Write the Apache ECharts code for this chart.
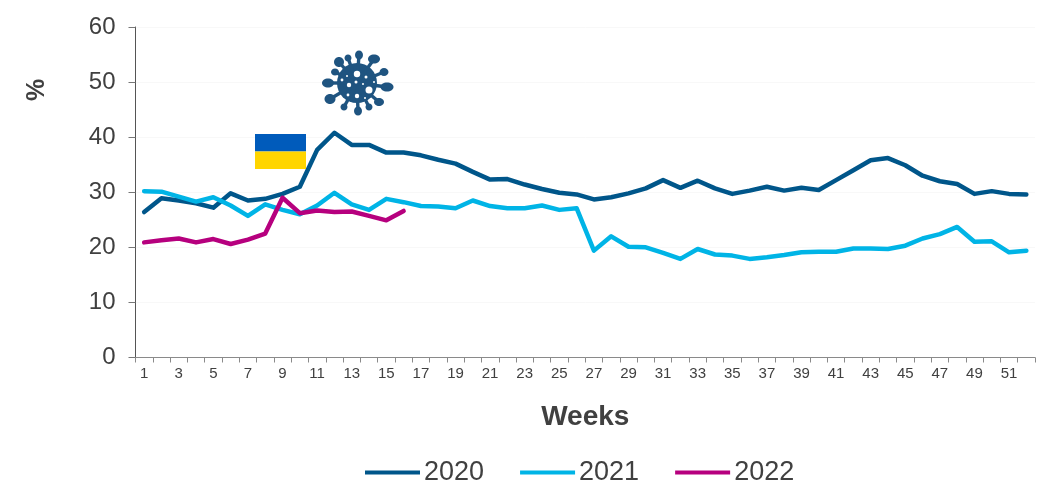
<!DOCTYPE html>
<html><head><meta charset="utf-8">
<style>html,body{margin:0;padding:0;background:#fff}#c{width:1051px;height:486px}</style>
<script src="https://cdn.jsdelivr.net/npm/echarts@6/dist/echarts.min.js"></script>
</head><body><div id="c"></div>
<script>
const weeks = Array.from({length:52},(_, i)=>String(i+1));
const s2020 = [26.4,28.9,28.5,28,27.2,29.8,28.5,28.8,29.7,31,37.7,40.8,38.6,38.6,37.2,37.2,36.7,35.9,35.2,33.7,32.3,32.4,31.4,30.6,29.9,29.6,28.7,29.1,29.8,30.7,32.2,30.8,32.1,30.7,29.7,30.3,31,30.3,30.8,30.4,32.2,34,35.8,36.2,34.9,33,32,31.5,29.7,30.2,29.7,29.6];
const s2021 = [30.2,30.1,29.2,28.3,29.1,27.6,25.7,27.8,26.8,26,27.6,29.9,27.8,26.8,28.8,28.2,27.5,27.4,27.1,28.5,27.5,27.1,27.1,27.6,26.8,27.1,19.4,22,20.1,20,19,17.9,19.7,18.7,18.5,17.9,18.2,18.6,19.1,19.2,19.2,19.8,19.8,19.7,20.3,21.6,22.4,23.7,21,21.1,19.1,19.4];
const s2022 = [20.9,21.3,21.6,20.9,21.5,20.6,21.4,22.5,29,26.2,26.7,26.4,26.5,25.7,24.9,26.6];
const C20='#00568A', C21='#00B4E6', C22='#B6007E', VIR='#1F5480', TXT='#404040';
// virus icon: spike tips [dx,dy,rx,ry] and holes [dx,dy,r], relative to icon centre
const tips=[[2,-28,4,4.5],[17,-24,6,4.5],[27,-11,4.5,4],[30,4,6.5,4.5],[22,19,5,4],[12,24,3.5,3.5],[1,28,4,4.5],[-13,24,3.5,3.5],[-27,16,5.5,5],[-29,0,6,4.5],[-22,-11,4,3.5],[-18,-21,5,5],[-9,-25,3.5,3.5]];
const holes=[[0,-9,3.2],[-8,2,2.2],[-1,-1,1.5],[12,7,3.5],[0,13,2.2],[9,-6,1.5],[-15,-3,1.4],[6,1,1],[-9,12,1.4],[17,-1,1],[-10,-7,1],[8,15,1]];
const VC=[357,83];
const virus=[{type:'circle',z:100,shape:{cx:0,cy:0,r:20},style:{fill:VIR}}];
tips.forEach(t=>{
  virus.push({type:'line',z:100,shape:{x1:0,y1:0,x2:t[0],y2:t[1]},style:{stroke:VIR,lineWidth:3.4}});
  virus.push({type:'ellipse',z:100,shape:{cx:t[0],cy:t[1],rx:t[2],ry:t[3]},style:{fill:VIR}});
});
holes.forEach(h=>virus.push({type:'circle',z:101,shape:{cx:h[0],cy:h[1],r:h[2]},style:{fill:'#fff'}}));
const mk=(name,data,color,z)=>({name,type:'line',data,symbol:'none',smooth:false,z,
  lineStyle:{color,width:4.5,cap:'round',join:'round'},itemStyle:{color}});
const chart=echarts.init(document.getElementById('c'),null,{renderer:'canvas'});
chart.setOption({
  animation:false,backgroundColor:'#fff',
  textStyle:{fontFamily:'"Liberation Sans",Arial,sans-serif'},
  grid:{left:135.5,right:16,top:27,height:330.5,containLabel:false},
  legend:{show:true,left:360,top:454,itemWidth:55,itemHeight:4,itemGap:36,icon:'rect',
    textStyle:{fontSize:27,color:TXT,padding:[2,0,0,-1]},data:['2020','2021','2022']},
  xAxis:{type:'category',data:weeks,boundaryGap:true,name:'Weeks',nameLocation:'middle',nameGap:46,
    nameTextStyle:{fontSize:28,fontWeight:'bold',color:TXT},
    axisLine:{lineStyle:{color:'#8a8a8a',width:1}},
    axisTick:{show:true,alignWithLabel:false,interval:0,length:5,lineStyle:{color:'#8a8a8a'}},
    axisLabel:{interval:1,fontSize:15,color:TXT,margin:9},splitLine:{show:false}},
  yAxis:{type:'value',min:0,max:60,interval:10,
    axisLine:{show:true,lineStyle:{color:'#555',width:1}},
    axisTick:{show:true,length:7,lineStyle:{color:'#777'}},
    axisLabel:{fontSize:24,color:TXT,margin:20},
    splitLine:{show:true,lineStyle:{color:'#f8f8f8',width:1}}},
  series:[mk('2020',s2020,C20,2),mk('2021',s2021,C21,3),mk('2022',s2022,C22,4)],
  graphic:[
    {type:'text',z:100,x:37,y:90,rotation:Math.PI/2,style:{text:'%',fill:TXT,font:'bold 25px "Liberation Sans",Arial,sans-serif',align:'center',verticalAlign:'middle'}},
    {type:'rect',z:100,left:255,top:134,shape:{width:51,height:17.5},style:{fill:'#005BBB'}},
    {type:'rect',z:100,left:255,top:151.5,shape:{width:51,height:17.5},style:{fill:'#FFD500'}},
    {type:'group',z:100,x:VC[0],y:VC[1],children:virus}
  ]
});
</script></body></html>
